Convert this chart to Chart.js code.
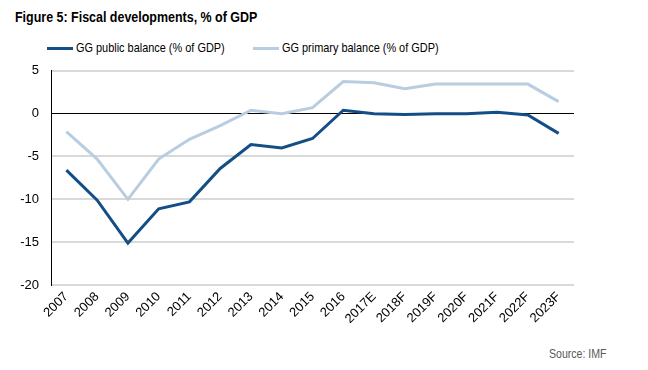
<!DOCTYPE html>
<html>
<head>
<meta charset="utf-8">
<script src="https://cdn.jsdelivr.net/npm/chart.js@4"></script>
<style>
  body { margin: 0; background: #fff; font-family: "Liberation Sans", Arial, sans-serif; }
  #wrap { position: relative; width: 648px; height: 370px; overflow: hidden; }
  .narrow { display: inline-block; transform-origin: left center; white-space: nowrap; }
  #title { position: absolute; left: 15px; top: 9px; font-weight: bold; font-size: 14px; color: #000; transform: scaleX(0.89); }
  .legItem { position: absolute; top: 40px; font-size: 13px; color: #000; height: 16px; }
  .legItem .swatch { position: absolute; left: 0; top: 7px; width: 26px; height: 3px; }
  .legItem .txt { position: absolute; left: 29px; top: 0; transform: scaleX(0.84); }
  #chartBox { position: absolute; left: 0; top: 51px; width: 600px; height: 284px; }
  #source { position: absolute; left: 549px; top: 347px; font-size: 12px; color: #595959; transform: scaleX(0.88); }
</style>
</head>
<body>
<div id="wrap">
  <div id="title" class="narrow">Figure 5: Fiscal developments, % of GDP</div>
  <div id="legend"></div>
  <div id="chartBox"><canvas id="fiscalChart"></canvas></div>
  <div id="source" class="narrow">Source: IMF</div>
</div>
<script>
// Data
const years = ['2007', '2008', '2009', '2010', '2011', '2012', '2013', '2014', '2015', '2016',
    '2017E', '2018F', '2019F', '2020F', '2021F', '2022F', '2023F'];
const publicBalance = [-6.6, -10.1, -15.1, -11.1, -10.3, -6.4, -3.6, -4.0, -2.9, 0.4,
    0.0, -0.1, 0.0, 0.0, 0.15, -0.15, -2.3];
const primaryBalance = [-2.1, -5.3, -10.0, -5.3, -3.0, -1.4, 0.4, 0.0, 0.7, 3.75,
    3.6, 2.9, 3.45, 3.45, 3.45, 3.45, 1.4];
const yTicks = [5, 0, -5, -10, -15, -20];

const darkBlue = '#134f86';
const lightBlue = '#b9cde0';

const datasets = [
    { label: 'GG public balance (% of GDP)', data: publicBalance, borderColor: darkBlue },
    { label: 'GG primary balance (% of GDP)', data: primaryBalance, borderColor: lightBlue }
].map(ds => Object.assign(ds, { borderWidth: 3, pointRadius: 0, tension: 0, fill: false }));

// Legend as plain text above the chart
const legendEl = document.getElementById('legend');
const legendLeft = [47, 253];
datasets.forEach((ds, i) => {
    const item = document.createElement('div');
    item.className = 'legItem';
    item.style.left = legendLeft[i] + 'px';
    item.innerHTML = '<span class="swatch" style="background:' + ds.borderColor + '"></span>' +
        '<span class="txt narrow">' + ds.label + '</span>';
    legendEl.appendChild(item);
});

const ctx = document.getElementById('fiscalChart').getContext('2d');
new Chart(ctx, {
    type: 'line',
    data: { labels: years, datasets: datasets },
    options: {
        responsive: true,
        maintainAspectRatio: false,
        animation: false,
        layout: { padding: { top: 5, right: 26, left: 0, bottom: 0 } },
        plugins: { legend: { display: false }, tooltip: { enabled: false } },
        scales: {
            x: {
                offset: true,
                grid: { display: false, drawTicks: false },
                border: { display: false },
                ticks: {
                    color: '#000',
                    font: { family: 'Liberation Sans', size: 13 },
                    minRotation: 45,
                    maxRotation: 45,
                    padding: 4
                },
                afterFit: scale => { scale.height = 50; }
            },
            y: {
                min: -20,
                max: 5,
                afterBuildTicks: scale => { scale.ticks = yTicks.map(v => ({ value: v })); },
                grid: {
                    drawTicks: false,
                    color: c => c.tick && c.tick.value === 0 ? '#000' : '#d9d9d9',
                    lineWidth: c => c.tick && c.tick.value === 0 ? 1 : 2
                },
                border: { display: true, color: '#000', width: 1 },
                ticks: {
                    color: '#000',
                    font: { family: 'Liberation Sans', size: 13 },
                    padding: 12
                },
                afterFit: scale => { scale.width = 51; }
            }
        }
    }
});
</script>
</body>
</html>
